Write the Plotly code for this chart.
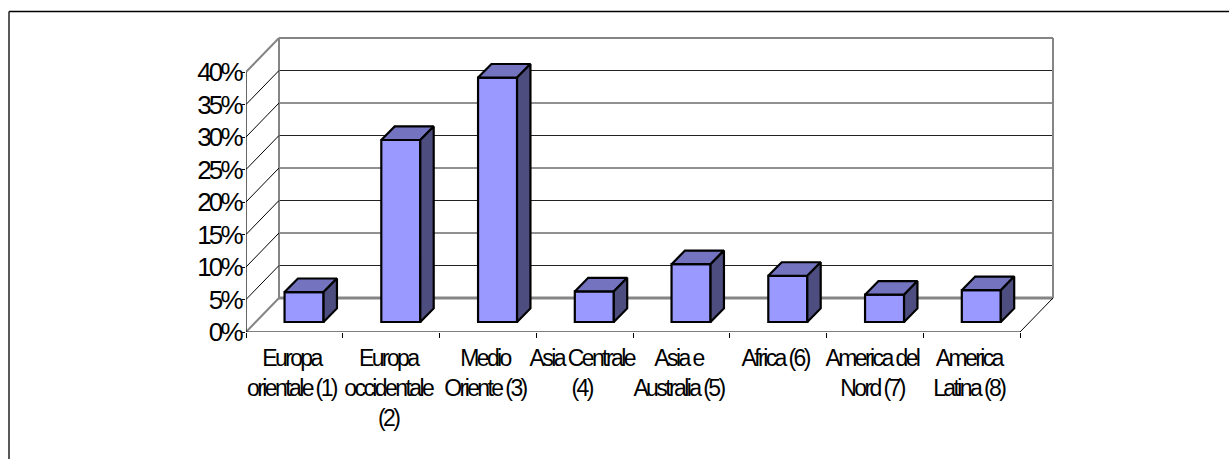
import plotly.graph_objects as go

categories = ["Europa<br>orientale (1)", "Europa<br>occidentale<br>(2)", "Medio<br>Oriente (3)",
              "Asia Centrale<br>(4)", "Asia e<br>Australia (5)", "Africa (6)",
              "America del<br>Nord (7)", "America<br>Latina (8)"]
values = [4.6, 28.0, 37.6, 4.7, 8.9, 7.1, 4.2, 4.9]
y_ticks = [0, 5, 10, 15, 20, 25, 30, 35, 40]
y_labels = ["0%", "5%", "10%", "15%", "20%", "25%", "30%", "35%", "40%"]
x_edges = list(range(9))

W, H = 1229, 459
PX_X, PX_Y = 96.75, 6.5          # pixels per category / per percent
WALL_X, WALL_Y = 33 / PX_X, 34 / PX_Y    # depth of the floor
BAR_W = 39 / PX_X
BAR_DX, BAR_DY = 13.4 / PX_X, 13.6 / PX_Y  # depth of each bar
BAR_X0, BAR_Y0 = 0.1, 10 / PX_Y  # bar placement on the floor

FRONT, TOP, SIDE = "#9999FF", "#7373BF", "#4D4D7F"
GREY = "#858585"
N = len(values)
xmax, ymax = N + WALL_X + 0.1, y_ticks[-1] + WALL_Y + 1

fig = go.Figure()
centers = [i + 0.5 + BAR_X0 for i in range(N)]
fig.add_trace(go.Bar(x=centers, y=values, base=BAR_Y0, width=BAR_W,
                     marker=dict(color=FRONT, line=dict(color="black", width=2.2)),
                     hoverinfo="skip", showlegend=False))

tx, ty, sx, sy = [], [], [], []
for c, v in zip(centers, values):
    l, r, b, t = c - BAR_W / 2, c + BAR_W / 2, BAR_Y0, BAR_Y0 + v
    tx += [l, r, r + BAR_DX, l + BAR_DX, l, None]
    ty += [t, t, t + BAR_DY, t + BAR_DY, t, None]
    sx += [r, r + BAR_DX, r + BAR_DX, r, r, None]
    sy += [b, b + BAR_DY, t + BAR_DY, t, b, None]
for xs, ys, col in ((tx, ty, TOP), (sx, sy, SIDE)):
    fig.add_trace(go.Scatter(x=xs, y=ys, mode="lines", fill="toself", fillcolor=col,
                             line=dict(color="black", width=2.2), hoverinfo="skip",
                             showlegend=False))

# left wall diagonals, front axes
for v in y_ticks:
    edge = v in (y_ticks[0], y_ticks[-1])
    fig.add_trace(go.Scatter(x=[0, WALL_X], y=[v, v + WALL_Y], mode="lines", cliponaxis=False,
                             line=dict(color=GREY if edge else "black", width=2 if edge else 1),
                             hoverinfo="skip", showlegend=False))
fig.add_trace(go.Scatter(x=[N, N + WALL_X], y=[0, WALL_Y], mode="lines", cliponaxis=False,
                         line=dict(color="black", width=1), hoverinfo="skip", showlegend=False))
fig.add_trace(go.Scatter(x=[0, 0, N], y=[y_ticks[-1], 0, 0], mode="lines", cliponaxis=False,
                         line=dict(color="black", width=1.2), hoverinfo="skip", showlegend=False))

shapes = []
for v in y_ticks:
    if v == 0:
        c, w = GREY, 3
    elif v == y_ticks[-1]:
        c, w = GREY, 2
    else:
        c, w = "#222222", 1
    shapes.append(dict(type="line", xref="x", yref="y", layer="below", x0=WALL_X, x1=N + WALL_X,
                       y0=v + WALL_Y, y1=v + WALL_Y, line=dict(color=c, width=w)))
for x in (WALL_X, N + WALL_X):
    shapes.append(dict(type="line", xref="x", yref="y", layer="below", x0=x, x1=x,
                       y0=WALL_Y, y1=y_ticks[-1] + WALL_Y, line=dict(color=GREY, width=2)))
# outer chart frame (top and left edges)
shapes.append(dict(type="line", xref="paper", yref="paper", x0=9 / W, x1=1, y0=1 - 11.5 / H, y1=1 - 11.5 / H,
                   line=dict(color="black", width=1.3)))
shapes.append(dict(type="line", xref="paper", yref="paper", x0=9 / W, x1=9 / W, y0=0, y1=1 - 11.5 / H,
                   line=dict(color="#222222", width=1.5)))

FONT = "Liberation Sans, Arial, sans-serif"
fig.update_layout(
    template="none",
    width=W, height=H, autosize=False, margin=dict(l=0, r=0, t=0, b=0, pad=0, autoexpand=False),
    paper_bgcolor="white", plot_bgcolor="rgba(0,0,0,0)", showlegend=False, shapes=shapes,
    xaxis=dict(automargin=False, domain=[246 / W, (246 + xmax * PX_X) / W], range=[0, xmax], showgrid=False,
               zeroline=False, showline=False, tickmode="array", tickvals=[i + 0.47 for i in range(N)],
               ticktext=categories, ticks="", tickangle=0, ticklabelstandoff=10,
               tickfont=dict(family=FONT, size=23, color="black"),
               minor=dict(tickmode="array", tickvals=x_edges, ticks="outside", ticklen=5, tickwidth=1,
                          tickcolor="black", showgrid=False)),
    yaxis=dict(automargin=False, domain=[(H - 332) / H, (H - 332 + ymax * PX_Y) / H], range=[0, ymax],
               showgrid=False, zeroline=False, showline=False, tickmode="array", tickvals=y_ticks,
               ticktext=y_labels, ticks="outside", ticklen=3, tickwidth=1, tickcolor="black", ticklabelstandoff=-4,
               tickfont=dict(family=FONT, size=26, color="black")),
)

post = """
var st=document.createElement('style');
st.textContent='html,body{margin:0!important;padding:0!important;overflow:hidden!important}.xtick text{letter-spacing:-2.6px}.ytick text{letter-spacing:-2.8px}';
document.head.appendChild(st);
"""
fig.write_html("out.html", post_script=post, config=dict(displayModeBar=False))
